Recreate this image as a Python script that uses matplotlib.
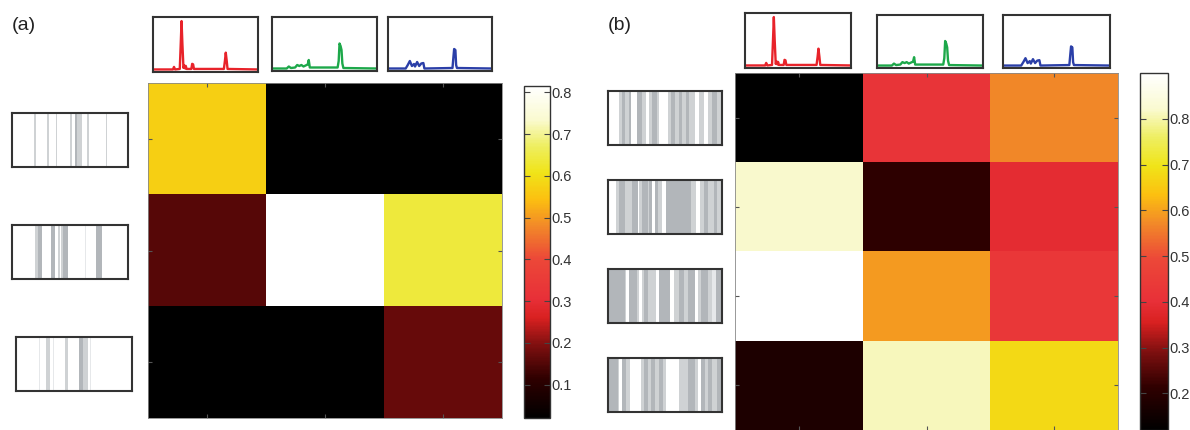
import matplotlib

matplotlib.use("Agg")
import matplotlib.pyplot as plt
import numpy as np
from matplotlib.colors import LinearSegmentedColormap

plt.rcParams["font.family"] = ["Liberation Sans", "DejaVu Sans"]

W, H = 1190, 430

# heat-map values, rows top-to-bottom
VALS_A = [
    [0.57, 0.02, 0.02],
    [0.155, 0.815, 0.64],
    [0.02, 0.02, 0.17],
]
VALS_B = [
    [0.12, 0.42, 0.57],
    [0.82, 0.21, 0.39],
    [0.90, 0.59, 0.43],
    [0.18, 0.81, 0.68],
]
RANGE_A = (0.02, 0.815)
RANGE_B = (0.12, 0.90)
TICKS_A = [0.1, 0.2, 0.3, 0.4, 0.5, 0.6, 0.7, 0.8]
TICKS_B = [0.2, 0.3, 0.4, 0.5, 0.6, 0.7, 0.8]

# spectra (x, intensity)
RED_X = [0, 19, 20, 21, 25.5, 26.5, 27.2, 28, 29, 29.8, 30.6, 31.2, 32, 36.5, 37.3, 38.2, 39, 67.5, 68.5, 69.3, 70.2, 71, 100]
RED_Y = [0.05, 0.05, 0.10, 0.05, 0.06, 0.6, 1.0, 0.55, 0.08, 0.13, 0.07, 0.12, 0.06, 0.06, 0.16, 0.15, 0.06, 0.06, 0.22, 0.38, 0.22, 0.06, 0.05]
GREEN_X = [0, 14, 16, 18, 22, 24, 26, 28, 30, 32, 34, 35, 36, 62.5, 63.5, 64.3, 65.3, 66.2, 67, 68, 100]
GREEN_Y = [0.05, 0.05, 0.09, 0.06, 0.07, 0.12, 0.10, 0.12, 0.09, 0.11, 0.13, 0.22, 0.07, 0.07, 0.2, 0.55, 0.5, 0.42, 0.15, 0.06, 0.05]
BLUE_X = [0, 17, 19, 21, 23, 25, 26, 28, 30, 32, 34, 35, 62, 63, 63.6, 64.8, 65.5, 66.3, 100]
BLUE_Y = [0.05, 0.05, 0.12, 0.2, 0.1, 0.14, 0.09, 0.18, 0.10, 0.15, 0.16, 0.05, 0.06, 0.3, 0.44, 0.42, 0.12, 0.06, 0.05]

# barcode bands: (left, right, grey level 0 faint .. 2 mid)
BARS_A = [
    [(0.19, 0.205, 1), (0.30, 0.32, 1), (0.38, 0.39, 1), (0.50, 0.515, 1), (0.54, 0.56, 2), (0.56, 0.60, 1),
     (0.65, 0.66, 1), (0.81, 0.82, 1)],
    [(0.20, 0.22, 1), (0.22, 0.26, 2), (0.34, 0.37, 2), (0.40, 0.41, 1), (0.42, 0.44, 1), (0.44, 0.48, 2),
     (0.63, 0.64, 0), (0.72, 0.78, 2)],
    [(0.20, 0.21, 0), (0.26, 0.29, 1), (0.32, 0.33, 0), (0.42, 0.45, 1), (0.54, 0.58, 2), (0.58, 0.62, 1),
     (0.64, 0.65, 0)],
]
BARS_B = [
    [(0.10, 0.12, 1), (0.12, 0.15, 2), (0.15, 0.18, 1), (0.18, 0.20, 2), (0.25, 0.30, 2), (0.30, 0.33, 1),
     (0.36, 0.39, 1), (0.39, 0.43, 2), (0.43, 0.45, 1), (0.53, 0.55, 1), (0.55, 0.59, 2), (0.59, 0.62, 1),
     (0.62, 0.65, 2), (0.65, 0.68, 1), (0.68, 0.71, 2), (0.71, 0.76, 1), (0.80, 0.84, 1), (0.88, 0.91, 1),
     (0.91, 0.96, 2), (0.96, 1.0, 1)],
    [(0.07, 0.10, 1), (0.10, 0.15, 2), (0.15, 0.21, 1), (0.21, 0.26, 2), (0.27, 0.30, 1), (0.30, 0.35, 2),
     (0.35, 0.36, 1), (0.36, 0.39, 2), (0.41, 0.44, 2), (0.44, 0.47, 1), (0.51, 0.73, 2), (0.73, 0.77, 1),
     (0.81, 0.84, 1), (0.84, 0.88, 2), (0.88, 0.93, 1), (0.93, 0.96, 2), (0.96, 1.0, 1)],
    [(0.0, 0.15, 2), (0.15, 0.16, 1), (0.18, 0.25, 2), (0.25, 0.27, 1), (0.30, 0.32, 1), (0.32, 0.35, 2),
     (0.35, 0.42, 1), (0.45, 0.54, 2), (0.58, 0.62, 1), (0.62, 0.67, 2), (0.67, 0.70, 1), (0.70, 0.76, 2),
     (0.79, 0.82, 1), (0.82, 0.88, 2), (0.88, 0.91, 1), (0.91, 0.95, 0), (0.95, 1.0, 2)],
    [(0.0, 0.09, 2), (0.09, 0.10, 1), (0.12, 0.16, 2), (0.16, 0.19, 1), (0.29, 0.32, 1), (0.32, 0.35, 2),
     (0.35, 0.38, 1), (0.38, 0.41, 2), (0.41, 0.45, 1), (0.45, 0.48, 2), (0.48, 0.51, 1), (0.62, 0.70, 1),
     (0.70, 0.76, 2), (0.76, 0.79, 1), (0.82, 0.85, 2), (0.85, 0.88, 1), (0.88, 0.91, 2), (0.91, 0.96, 1),
     (0.96, 1.0, 2)],
]

SPEC_COLORS = ["#E8232A", "#1DA84A", "#2B3FA8"]
GREYS = ["#E6E8EA", "#CFD2D4", "#B2B6BA"]
FRAME = "#333333"

CMAP = LinearSegmentedColormap.from_list("hotish", [
    (0.00, "#000000"), (0.12, "#300000"), (0.22, "#801010"), (0.30, "#d82020"),
    (0.36, "#e83038"), (0.48, "#ec4838"), (0.58, "#f28a28"), (0.66, "#fcc010"),
    (0.74, "#f0e418"), (0.82, "#eeee60"), (0.90, "#fafad0"), (1.00, "#ffffff"),
])


def px(x0, y0, x1, y1):
    return [x0 / W, 1 - y1 / H, (x1 - x0) / W, (y1 - y0) / H]


def frame(ax, lw=1.5):
    ax.set_xticks([])
    ax.set_yticks([])
    for s in ax.spines.values():
        s.set_color(FRAME)
        s.set_linewidth(lw)


def spectrum(fig, box, xs, ys, color):
    ax = fig.add_axes(px(*box))
    ax.plot(xs, ys, color=color, lw=1.7, solid_joinstyle="round")
    ax.set_xlim(0, 100)
    ax.set_ylim(0, 1.08)
    frame(ax)


def barcode(fig, box, bands):
    ax = fig.add_axes(px(*box))
    for l, r, d in bands:
        ax.axvspan(l, r, color=GREYS[d], lw=0)
    ax.set_xlim(0, 1)
    frame(ax)


def heat(fig, box, cbox, vals, rng, ticks):
    ax = fig.add_axes(px(*box))
    v = np.array(vals)
    im = ax.imshow(v, cmap=CMAP, vmin=rng[0], vmax=rng[1], aspect="auto",
                   interpolation="nearest")
    ax.set_xticks(range(v.shape[1]))
    ax.set_yticks(range(v.shape[0]))
    ax.tick_params(direction="in", length=3, color="#555555", top=True, right=True,
                   labelleft=False, labelbottom=False)
    for s in ax.spines.values():
        s.set_color("#888888")
        s.set_linewidth(0.6)
    cax = fig.add_axes(px(*cbox))
    cb = fig.colorbar(im, cax=cax, ticks=ticks)
    cax.tick_params(direction="in", length=4, left=True, right=True, labelsize=10.5,
                    labelcolor="#333333", color="#444444", pad=1)
    cb.outline.set_edgecolor(FRAME)
    cb.outline.set_linewidth(1.0)
    return ax


fig = plt.figure(figsize=(W / 100, H / 100), dpi=100)
fig.patch.set_facecolor("white")

# ---- panel (a) ----
fig.text(12 / W, 1 - 30 / H, "(a)", fontsize=14, color="#222222")
heat(fig, (148, 83, 502, 418), (524, 86, 550, 418), VALS_A, RANGE_A, TICKS_A)
for box, xs, ys, c in zip(
    [(153, 17, 258, 72), (272, 17, 377, 71), (388, 17, 492, 71)],
    [RED_X, GREEN_X, BLUE_X], [RED_Y, GREEN_Y, BLUE_Y], SPEC_COLORS,
):
    spectrum(fig, box, xs, ys, c)
for box, bands in zip(
    [(12, 113, 128, 167), (12, 225, 128, 279), (16, 337, 132, 391)], BARS_A
):
    barcode(fig, box, bands)

# ---- panel (b) ----
fig.text(608 / W, 1 - 30 / H, "(b)", fontsize=14, color="#222222")
heat(fig, (735, 73, 1118, 430), (1140, 73, 1168, 430), VALS_B, RANGE_B, TICKS_B)
for box, xs, ys, c in zip(
    [(745, 13, 851, 68), (877, 15, 983, 68), (1003, 15, 1110, 68)],
    [RED_X, GREEN_X, BLUE_X], [RED_Y, GREEN_Y, BLUE_Y], SPEC_COLORS,
):
    spectrum(fig, box, xs, ys, c)
for box, bands in zip(
    [(608, 91, 722, 145), (608, 180, 722, 234), (608, 269, 722, 323), (608, 358, 722, 412)],
    BARS_B,
):
    barcode(fig, box, bands)

fig.savefig("out.png", dpi=100, facecolor="white")
